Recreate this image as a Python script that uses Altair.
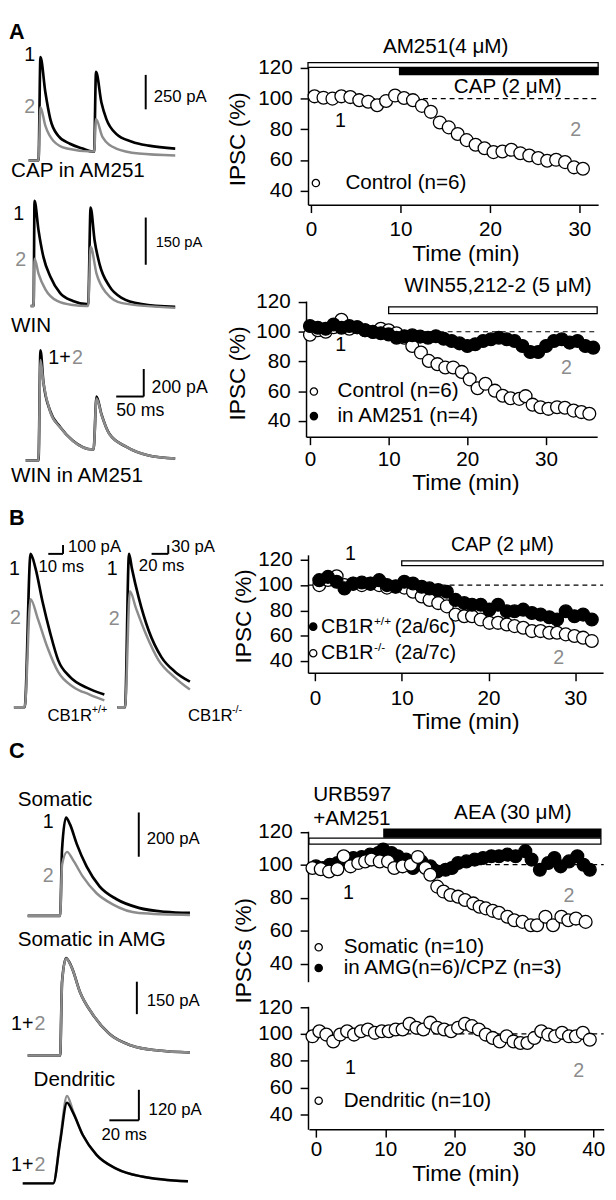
import altair as alt
import pandas as pd

FONT = "Liberation Sans"
GRAY = "#8c8c8c"
LW, RW, CH = 304, 304, 1192   # left column width, right column width, height
RX = 8 + LW                     # page x of right column origin

# ================= time-course data (min, % of baseline IPSC) =================
a1_time = [0.4, 1.4, 2.4, 3.4, 4.4, 5.4, 6.4, 7.4, 8.4, 9.4, 10.4, 11.4, 12.4, 13.4, 14.4, 15.4,
           16.4, 17.4, 18.4, 19.4, 20.4, 21.4, 22.4, 23.4, 24.4, 25.4, 26.4, 27.4, 28.4, 29.4, 30.4]
a1_control = [101.5, 100.6, 100.0, 101.5, 101.0, 99.0, 98.0, 95.7, 98.5, 102.0, 100.4, 99.0, 95.3,
              91.4, 84.5, 81.3, 77.0, 73.0, 70.0, 67.7, 65.2, 65.6, 66.7, 64.5, 63.0, 61.3, 59.6,
              60.2, 58.7, 55.3, 54.4]
a1_bars = [(-0.33, 32.1), (9.9, 32.1)]

a2_ctrl_time = [0, 1, 2, 3, 4, 5, 6, 7, 8, 9, 10, 11, 12, 13.0, 14.1, 15.1, 16.2, 17.2, 18.2, 19.3,
                20.3, 21.3, 22.3, 23.5, 24.5, 25.5, 26.6, 27.4, 28.3, 29.3, 30.3, 31.4, 32.4, 33.5,
                34.5, 35.5]
a2_control = [98, 101, 100, 103, 108, 102, 103, 101, 100, 102, 101, 99, 96, 90.4, 86, 80.4, 78.2,
              76, 76, 73, 68, 62, 65, 60.4, 57, 55.3, 54.9, 56.7, 51, 49.3, 48.2, 49.3, 48.9, 47,
              46, 44.9]
a2_am_time = list(range(0, 37))
a2_am251 = [103.8, 102.7, 102, 104.9, 102.7, 103.8, 103, 101, 99.8, 99, 98.2, 96, 97, 97.6, 96.7,
            96, 97, 95.3, 93.8, 92.2, 90.4, 91.6, 93.8, 94.9, 96, 94.9, 93.8, 90.4, 86.4, 86.4,
            90.4, 93.8, 94.9, 92.7, 93.8, 90.4, 89.3]
a2_bar = (10.0, 36.5)

b_time = [0.5, 1.5, 2.5, 3.4, 4.4, 5.4, 6.4, 7.4, 8.3, 9.3, 10.3, 11.3, 12.3, 13.2, 14.2, 15.2,
          16.2, 17.2, 18.1, 19.1, 20.1, 21.1, 22.1, 23.0, 24.0, 25.0, 26.0, 27.0, 27.9, 28.9,
          29.9, 30.9, 31.9]
b_wt = [103.9, 106.5, 102.6, 97.4, 101.3, 102, 101.3, 103.9, 100, 98.7, 102.6, 101.3, 98.7, 97.4,
        96, 94.8, 88.3, 85.8, 84.5, 84.5, 80.6, 84.5, 79.3, 79.3, 80.6, 78, 76.7, 74.6, 72.8,
        79.3, 75.4, 76.7, 72.8]
b_ko = [100, 104, 107, 100, 101, 100, 101, 100, 98, 99, 98, 94.8, 91, 88.3, 85.8, 83.2, 76.7, 75.4,
        75.4, 72.8, 70.2, 70.2, 68.9, 67.6, 66.3, 63.7, 63.7, 62.4, 62.4, 61.1, 59.8, 58.5, 55.9]
b_bar = (10.0, 33.2)

c1_som_time = [-0.5, 0.7, 1.9, 3.1, 4.0, 5.0, 6.1, 7.1, 8.0, 9.2, 10.4, 11.3, 12.5, 13.7, 14.7,
               15.8, 16.5, 17.5, 18.4, 19.4, 20.5, 21.5, 22.7, 23.6, 24.5, 25.5, 26.4, 27.6,
               28.6, 29.8, 31.0, 31.9, 33.1, 34.2, 35.4, 36.4, 37.5, 38.9]
c1_somatic = [98, 97.3, 95.9, 97.3, 105.1, 99, 101, 102, 103.1, 102, 102, 98, 99, 100, 104.7, 98,
              93.9, 86.7, 83.7, 81.6, 80.6, 78.6, 76.5, 74.5, 73.5, 72, 70.8, 68.4, 66.3, 65.3,
              63.3, 63.3, 68.4, 63.3, 68.4, 66.3, 67.3, 65.3]
c1_amg_time = [0.0, 1.0, 2.0, 3.1, 4.3, 5.4, 6.6, 7.8, 9.0, 9.7, 10.9, 11.8, 13.0, 14.0, 15.2,
               16.5, 17.5, 18.7, 19.6, 20.5, 21.7, 22.9, 24.1, 25.3, 26.4, 27.6, 28.8, 30.2,
               31.1, 32.3, 33.5, 34.4, 35.3, 36.5, 37.7, 38.6, 39.5]
c1_amg = [99, 98, 100, 101, 104.1, 104.1, 104.7, 106.1, 107.1, 109.2, 107.1, 105.1, 103.1, 98,
          102, 99, 95.9, 96.9, 98, 101, 102, 103.1, 104.1, 105.1, 105.1, 106.1, 105.1, 108.2,
          103.1, 96.9, 101, 104.1, 99, 102, 105.1, 100, 96.9]
c1_bars = [(9.8, 41.1), (-1.0, 41.1)]

c2_time = [-0.5, 0.5, 1.5, 2.5, 3.5, 4.5, 5.5, 6.5, 7.5, 8.5, 9.5, 10.5, 11.5, 12.5, 13.5, 14.5,
           15.5, 16.5, 17.5, 18.5, 19.5, 20.5, 21.5, 22.5, 23.5, 24.5, 25.5, 26.5, 27.5, 28.5,
           29.5, 30.5, 31.5, 32.5, 33.5, 34.5, 35.5, 36.5, 37.5, 38.5, 39.5]
c2_dendritic = [98.2, 102, 99.5, 94.4, 99.5, 102, 99.5, 102, 103.3, 100.8, 102, 102, 103.3, 103.3,
                107.6, 104.6, 103.3, 108.4, 104.6, 103.3, 102, 104.6, 107.6, 105.8, 103.3, 99.5,
                97, 94.4, 98.2, 94.4, 93.2, 93.2, 97, 102, 99.5, 98.2, 100.8, 98.2, 98.2, 100.8,
                95.7]

# ================= example traces (ms, pA) =================
ta1_t1 = [0, 17.9, 21.4, 30.4, 39.3, 53.6, 75.0, 98.2, 116.1, 118.8, 122.3, 132.1, 141.1, 158.9,
          187.5, 217.9, 266.1]
ta1_i1 = [0, 0, 750, 493, 300, 179, 121, 86, 64, 64, 643, 421, 300, 193, 136, 107, 86]
ta1_t2 = [0, 17.9, 21.4, 30.4, 44.6, 69.6, 116.1, 118.8, 122.3, 133.9, 158.9, 200.0, 266.1]
ta1_i2 = [0, 0, 386, 250, 143, 86, 64, 64, 300, 171, 86, 50, 36]

ta2_t1 = [0, 5.4, 7.1, 14.3, 23.2, 35.7, 53.6, 76.8, 101.8, 104.5, 108.9, 116.1, 125.0, 142.9,
          166.1, 201.8, 262.5]
ta2_i1 = [0, 0, 334, 241, 156, 94, 41, 16, 6, 6, 313, 209, 134, 63, 25, 6, -3]
ta2_t2 = [0, 5.4, 7.1, 14.3, 26.8, 48.2, 76.8, 101.8, 104.5, 108.9, 119.6, 137.5, 166.1, 262.5]
ta2_i2 = [0, 0, 150, 103, 53, 16, 3, 0, 0, 188, 103, 41, 9, -6]

ta3_t = [0, 23.2, 26.8, 32.1, 44.6, 62.5, 85.7, 121.4, 123.2, 128.6, 137.5, 151.8, 182.1, 223.2,
         271.4]
ta3_i1 = [0, 0, 800, 571, 357, 243, 143, 79, 79, 464, 336, 193, 100, 36, 14]
ta3_i2 = [0, 0, 729, 565, 350, 240, 141, 79, 79, 450, 333, 192, 100, 36, 14]

tb1_t1 = [0, 7.3, 11.3, 14.7, 19.3, 24.7, 30.0, 38.0, 49.3, 61.3]
tb1_i1 = [0, 0, 1733, 1567, 1200, 833, 533, 344, 222, 144]
tb1_t2 = [0, 7.3, 11.3, 16.0, 22.7, 30.0, 40.0, 51.3, 61.3]
tb1_i2 = [0, 0, 1222, 1011, 678, 400, 233, 144, 78]

tb2_t1 = [0, 9.4, 14.2, 17.7, 26.0, 37.8, 53.1, 69.6, 87.3]
tb2_i1 = [0, 0, 520, 470, 370, 260, 170, 120, 87]
tb2_t2 = [0, 9.4, 15.3, 22.4, 34.2, 49.6, 69.6, 87.3]
tb2_i2 = [0, 0, 393, 337, 250, 160, 100, 60]

tc1_t1 = [0, 22.0, 23.3, 26.0, 28.7, 33.3, 40.0, 48.7, 60.0, 75.3, 93.3, 110.0]
tc1_i1 = [0, 0, 300, 444, 413, 324, 222, 133, 76, 36, 18, 13]
tc1_t2 = [0, 22.0, 23.3, 26.7, 30.7, 37.3, 46.7, 57.3, 75.3, 110.0]
tc1_i2 = [0, 0, 230, 289, 253, 178, 102, 53, 13, 4]

tc2_t = [0, 22.0, 23.3, 26.0, 30.0, 35.3, 44.0, 55.3, 70.7, 88.7, 110.0]
tc2_i1 = [0, 0, 340, 450, 405, 296, 191, 100, 45, 23, 14]
tc2_i2 = [0, 0, 338, 448, 404, 296, 191, 100, 45, 23, 14]

tc3_t = [0, 20.7, 25.3, 30.0, 34.0, 40.7, 50.0, 63.3, 80.7, 112.0]
tc3_i1 = [0, 0, 162, 317, 279, 190, 112, 58, 27, 8]
tc3_i2 = [0, 0, 170, 344, 285, 190, 112, 58, 27, 8]


# ================= helpers =================
def S(d0, d1, p0, p1, origin):
    return alt.Scale(domain=[d0, d1], range=[p0 - origin, p1 - origin], nice=False, zero=False)


AX = dict(labelFont=FONT, labelFontSize=21, labelColor="black", titleFont=FONT, titleFontSize=23,
          titleFontWeight="normal", titleColor="black", domainColor="black", domainWidth=1.5,
          tickColor="black", tickWidth=1.5, tickSize=8, grid=False, labelFlush=False,
          labelOverlap=False)


def xaxis(ticks, pad, tdy):
    return alt.Axis(orient="bottom", values=ticks, title="Time (min)", labelPadding=pad,
                    titleX=472 - RX, titleY=tdy, titleAngle=0, titleAlign="center",
                    titleBaseline="middle", **AX)


def yaxis(axis_x, top, title="", tx=0, ty=0):
    kw = dict(orient="left", offset=RX - axis_x, values=[40, 60, 80, 100, 120], labelPadding=8,
              **AX)
    if title:
        kw.update(title=title, titleX=tx - axis_x, titleY=ty - top, titleAngle=270,
                  titleAlign="center", titleBaseline="middle")
    else:
        kw.update(title="")
    return alt.Axis(**kw)


class P:
    """Scales and axes of one panel (shared by all its layers)."""
    def __init__(self, xs, ys, xax=None, yax=None):
        self.xs, self.ys, self.xax, self.yax = xs, ys, xax, yax

    def enc(self):
        return dict(x=alt.X("t:Q", scale=self.xs, axis=self.xax),
                    y=alt.Y("v:Q", scale=self.ys, axis=self.yax))


def frame(t0, t1, p):
    df = pd.DataFrame({"t": [t0], "t2": [t1], "v": [100.0]})
    return alt.Chart(df).mark_rule(strokeDash=[5, 4], strokeWidth=1.2, color="black").encode(
        x2="t2", **p.enc())


def dots(t, v, p, filled, size=170):
    df = pd.DataFrame({"t": t, "v": v})
    return alt.Chart(df).mark_circle(size=size, fill="black" if filled else "white",
                                     stroke="black", strokeWidth=1.3, opacity=1,
                                     fillOpacity=1).encode(**p.enc())


def bar(t0, t1, v0, v1, p, filled):
    df = pd.DataFrame({"t": [t0], "t2": [t1], "v": [v0], "v2": [v1]})
    return alt.Chart(df).mark_rect(fill="black" if filled else "white", stroke="black",
                                   strokeWidth=1.3).encode(x2="t2", y2="v2", **p.enc())


def texts(rows, p, size=21, color="black", align="left", weight="normal"):
    df = pd.DataFrame(rows, columns=["t", "v", "s"])
    return alt.Chart(df).mark_text(font=FONT, fontSize=size, color=color, align=align,
                                   baseline="middle", fontWeight=weight).encode(
        text="s:N", **p.enc())


def trace(t, v, p, color, w=2.4):
    df = pd.DataFrame({"t": t, "v": v})
    return alt.Chart(df).mark_line(color=color, strokeWidth=w, interpolate="monotone").encode(
        **p.enc())


def segs(rows, p, w=2):
    df = pd.DataFrame(rows, columns=["t", "v", "t2", "v2"])
    return alt.Chart(df).mark_rule(color="black", strokeWidth=w).encode(
        x2="t2", y2="v2", **p.enc())


def spacer(h):
    return alt.Chart(pd.DataFrame({"t": [0]})).mark_point(opacity=0, size=1).encode(
        x=alt.value(RW / 2), y=alt.value(h / 2)).properties(width=RW, height=h)


# ================= right column =================
# A1
top = 57
p = P(S(-0.33, 32.1, 312, 607, RX), S(31.0, 120.6, 197, 57, top),
      xaxis([0, 10, 20, 30], 6, 50), yaxis(312, top, "IPSC (%)", 240, 130))
pA1 = alt.layer(
    frame(-0.33, 32.1, p),
    bar(a1_bars[0][0], a1_bars[0][1], 120.4, 123.4, p, False),
    bar(a1_bars[1][0], a1_bars[1][1], 115.7, 120.0, p, True),
    dots(a1_time, a1_control, p, False),
    dots([0.55], [45.1], p, False, 55),
    texts([(15.05, 133.4, "AM251(4 μM)"), (22, 107.8, "CAP (2 μM)")], p, align="center"),
    texts([(3.3, 85.4, "1")], p, 20, align="center"),
    texts([(29.6, 79.7, "2")], p, 20, GRAY, "center"),
    texts([(3.85, 45.1, "Control (n=6)")], p),
).properties(width=RW, height=197 - 57)

# A2
top = 295
p = P(S(-0.5, 36.5, 310, 606, RX), S(29.4, 120.6, 433, 295, top),
      xaxis([0, 10, 20, 30], 4, 47), yaxis(310, top, "IPSC (%)", 240, 368))
pA2 = alt.layer(
    frame(-0.5, 36.5, p),
    bar(a2_bar[0], a2_bar[1], 112.1, 116.7, p, False),
    dots(a2_ctrl_time, a2_control, p, False),
    dots(a2_am_time, a2_am251, p, True),
    dots([0.5], [59.8], p, False, 55),
    dots([0.5], [43.3], p, True, 55),
    texts([(23.9, 130.6, "WIN55,212-2 (5 μM)")], p, align="center"),
    texts([(3.9, 90.9, "1")], p, 20, align="center"),
    texts([(32.6, 75.7, "2")], p, 20, GRAY, "center"),
    texts([(3.5, 59.8, "Control (n=6)"), (3.5, 43.3, "in AM251 (n=4)")], p),
).properties(width=RW, height=433 - 295)

# B
top = 553
p = P(S(-0.8, 33.2, 312, 612, RX), S(30.7, 123.9, 673, 553, top),
      xaxis([0, 10, 20, 30], 7, 50), yaxis(312, top, "IPSC (%)", 247, 615))
pB = alt.layer(
    frame(-0.8, 33.2, p),
    bar(b_bar[0], b_bar[1], 115.3, 119.2, p, False),
    dots(b_time, b_ko, p, False),
    dots(b_time, b_wt, p, True),
    dots([-0.2], [67.2], p, True, 55),
    dots([-0.2], [46.2], p, False, 55),
    texts([(21.6, 131.7, "CAP (2 μM)")], p, 20, align="center"),
    texts([(4.1, 124.7, "1")], p, 20, align="center"),
    texts([(28.1, 42.3, "2")], p, 20, GRAY, "center"),
    texts([(0.7, 67.2, "CB1R"), (9.2, 67.2, "(2a/6c)"), (0.7, 46.2, "CB1R"),
           (9.2, 46.2, "(2a/7c)")], p, 20),
    texts([(6.8, 71.8, "+/+"), (6.8, 50.8, "-/-")], p, 12),
).properties(width=RW, height=673 - 553)

# C1
top = 834
p = P(S(-1.0, 41.5, 313, 612.6, RX), S(29.0, 120.3, 987, 834, top),
      None, yaxis(312, top, "IPSCs (%)", 247, 955))
pC1 = alt.layer(
    frame(-1.0, 41.5, p),
    bar(c1_bars[0][0], c1_bars[0][1], 116.7, 121.5, p, True),
    bar(c1_bars[1][0], c1_bars[1][1], 112.5, 116.1, p, False),
    dots(c1_amg_time, c1_amg, p, True),
    dots(c1_som_time, c1_somatic, p, False),
    dots([0.4], [49.9], p, False, 55),
    dots([0.4], [37.3], p, True, 55),
    texts([(-0.4, 142.4, "URB597"), (-0.4, 127.5, "+AM251")], p),
    texts([(28.4, 131.6, "AEA (30 μM)")], p, align="center"),
    texts([(4.7, 82.7, "1")], p, 20, align="center"),
    texts([(36.5, 80.9, "2")], p, 20, GRAY, "center"),
    texts([(4.0, 49.9, "Somatic (n=10)"), (4.0, 37.3, "in AMG(n=6)/CPZ (n=3)")], p),
).properties(width=RW, height=987 - 834)

# C2
top = 1012
p = P(S(-1.0, 41.5, 313, 612.6, RX), S(28.8, 120.6, 1137, 1012, top),
      xaxis([0, 10, 20, 30, 40], 2, 45), yaxis(312, top))
pC2 = alt.layer(
    frame(-1.0, 41.5, p),
    dots(c2_time, c2_dendritic, p, False),
    dots([0.4], [50.1], p, False, 55),
    texts([(5.0, 74.3, "1")], p, 20, align="center"),
    texts([(37.9, 72.1, "2")], p, 20, GRAY, "center"),
    texts([(4.0, 50.1, "Dendritic (n=10)")], p),
).properties(width=RW, height=1137 - 1012)

right = alt.vconcat(spacer(57 - 8), pA1, spacer(295 - 197), pA2, spacer(553 - 433), pB,
                    spacer(834 - 673), pC1, spacer(1012 - 987), pC2, spacing=0, bounds="flush")

# ================= left column: traces =================
L = 8
lp = []
# A top: CAP in AM251
p = P(S(0, 300, 28, 196, L), S(0, 1000, 152, 12, L))
lp.append(alt.layer(
    trace(ta1_t1, ta1_i1, p, "black", 2.7),
    trace(ta1_t2, ta1_i2, p, GRAY, 2.5),
    segs([(212.5, 371, 212.5, 621)], p),
    texts([(-35.7, 930, "A")], p, 22, weight="bold"),
    texts([(1.8, 764, "1")], p, 20, align="center"),
    texts([(1.8, 386, "2")], p, 20, GRAY, "center"),
    texts([(227, 457, "250 pA")], p, 17),
    texts([(-32.1, -79, "CAP in AM251")], p, 21),
))

# A middle: WIN
p = P(S(0, 300, 30, 198, L), S(0, 300, 300, 204, L))
lp.append(alt.layer(
    trace(ta2_t1, ta2_i1, p, "black", 2.7),
    trace(ta2_t2, ta2_i2, p, GRAY, 2.5),
    segs([(209, 131, 209, 281)], p),
    texts([(-21.4, 291, "1")], p, 20, align="center"),
    texts([(-17.9, 147, "2")], p, 20, GRAY, "center"),
    texts([(227, 203, "150 pA")], p, 15),
    texts([(-35.7, -62.5, "WIN")], p, 21),
))

# A bottom: WIN in AM251
p = P(S(0, 300, 25, 193, L), S(0, 1000, 457, 317, L))
lp.append(alt.layer(
    trace(ta3_t, ta3_i1, p, "black", 2.7),
    trace(ta3_t, ta3_i2, p, GRAY, 2.5),
    segs([(214.3, 464, 214.3, 664), (164.3, 464, 214.3, 464)], p),
    texts([(41.1, 743, "1+")], p, 20),
    texts([(83.9, 743, "2")], p, 20, GRAY),
    texts([(228.6, 528, "200 pA")], p, 18),
    texts([(164.3, 357, "50 ms")], p, 18),
    texts([(-26.8, -114, "WIN in AM251")], p, 21),
))

# B left: CB1R+/+
p = P(S(0, 100, 13, 163, L), S(0, 2000, 708, 528, L))
lp.append(alt.layer(
    trace(tb1_t1, tb1_i1, p, "black", 2.7),
    trace(tb1_t2, tb1_i2, p, GRAY, 2.5),
    segs([(23.3, 1733, 33.3, 1733), (33.3, 1733, 33.3, 1833)], p),
    texts([(-3.3, 2142, "B")], p, 22, weight="bold"),
    texts([(-3.3, 1565, "1")], p, 20),
    texts([(-2.7, 1010, "2")], p, 20, GRAY),
    texts([(36.7, 1810, "100 pA"), (16.7, 1587, "10 ms")], p, 17),
    texts([(22.7, -100, "CB1R")], p, 17),
    texts([(52.7, -33, "+/+")], p, 11),
))

# B right: CB1R-/-
p = P(S(0, 100, 118, 202.7, L), S(0, 600, 708, 528, L))
lp.append(alt.layer(
    trace(tb2_t1, tb2_i1, p, "black", 2.7),
    trace(tb2_t2, tb2_i2, p, GRAY, 2.5),
    segs([(41.3, 520, 61.3, 520), (61.3, 520, 61.3, 550)], p),
    texts([(-5.9, 470, "1")], p, 20, align="center"),
    texts([(-3.5, 300, "2")], p, 20, GRAY, "center"),
    texts([(64.9, 543, "30 pA"), (26, 477, "20 ms")], p, 17),
    texts([(85, -30, "CB1R")], p, 17),
    texts([(137.7, -10, "-/-")], p, 11),
))

# C somatic
p = P(S(0, 100, 27, 177, L), S(0, 400, 920, 830, L))
lp.append(alt.layer(
    trace(tc1_t1, tc1_i1, p, "black", 2.7),
    trace(tc1_t2, tc1_i2, p, GRAY, 2.5),
    segs([(75.3, 267, 75.3, 467)], p),
    texts([(-12.7, 746, "C")], p, 22, weight="bold"),
    texts([(-6.7, 524, "Somatic")], p, 21),
    texts([(14, 422, "1")], p, 20, align="center"),
    texts([(14, 178, "2")], p, 20, GRAY, "center"),
    texts([(80.7, 346, "200 pA")], p, 17),
))

# C somatic in AMG
p = P(S(0, 100, 27, 177, L), S(0, 400, 1062, 974, L))
lp.append(alt.layer(
    trace(tc2_t, tc2_i1, p, "black", 2.7),
    trace(tc2_t, tc2_i2, p, GRAY, 2.5),
    segs([(74, 191, 74, 341)], p),
    texts([(-6.7, 532, "Somatic in AMG")], p, 21),
    texts([(-11.3, 145, "1+")], p, 20),
    texts([(4.7, 145, "2")], p, 20, GRAY),
    texts([(80.7, 250, "150 pA")], p, 17),
))

# C dendritic
p = P(S(0, 100, 22, 172, L), S(0, 400, 1192, 1088.6, L))
lp.append(alt.layer(
    trace(tc3_t, tc3_i2, p, GRAY, 2.5),
    trace(tc3_t, tc3_i1, p, "black", 2.5),
    segs([(78.7, 248, 78.7, 368), (58.7, 248, 78.7, 248)], p),
    texts([(7.3, 406, "Dendritic")], p, 21),
    texts([(-8, 73.5, "1+")], p, 20),
    texts([(8, 73.5, "2")], p, 20, GRAY),
    texts([(85.3, 290, "120 pA"), (53.3, 190, "20 ms")], p, 17),
))

left = alt.layer(*lp).resolve_scale(x="independent", y="independent").properties(
    width=LW, height=CH)

chart = alt.hconcat(left, right, spacing=0, bounds="flush").properties(
    padding=0).configure_view(stroke="transparent")

chart.save("out.html", embed_options={"renderer": "svg", "actions": False})
